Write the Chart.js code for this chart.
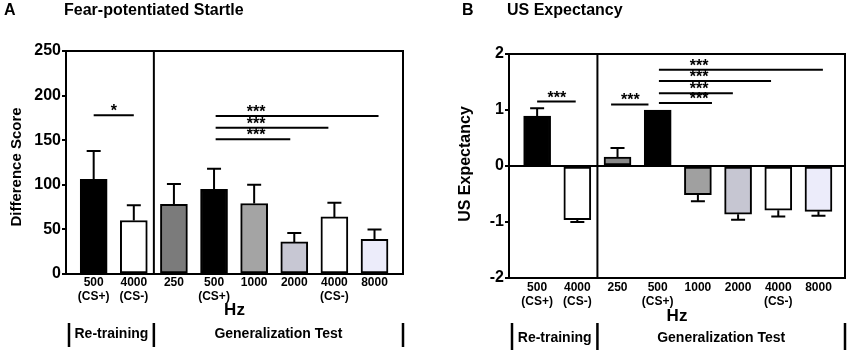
<!DOCTYPE html>
<html><head><meta charset="utf-8">
<script src="https://cdn.jsdelivr.net/npm/chart.js@4.4.0/dist/chart.umd.min.js"></script>
<style>
html,body{margin:0;padding:0;background:#fff;}
#wrap{position:relative;width:850px;height:353px;overflow:hidden;background:#fff;}
canvas{position:absolute;top:0;}
#cA{left:0px;} #cB{left:430px;}
</style></head><body>
<div id="wrap"><canvas id="cA" width="430" height="353"></canvas><canvas id="cB" width="420" height="353"></canvas></div>
<script>
// ---------- data ----------
const hzLabels = [["500","(CS+)"],["4000","(CS-)"],["250"],["500","(CS+)"],["1000"],["2000"],["4000","(CS-)"],["8000"]];
const groupNames = ["Re-training", "Generalization Test"];

const startleMeans   = [106, 60, 78, 95, 79, 36, 64, 39];
const startleErrEnds = [138, 77, 101, 118, 100, 46, 80, 50];
const startleTicks   = [0, 50, 100, 150, 200, 250];
const startleSig = [
  {from: 0,    to: 1,    y: 178, label: "*",   at: 0.5},
  {from: 3.04, to: 4.9,  y: 151, label: "***", at: 4.05},
  {from: 3.04, to: 5.85, y: 164, label: "***", at: 4.05},
  {from: 3.04, to: 7.1,  y: 177, label: "***", at: 4.05}
];

const usMeans   = [0.89, -0.96, 0.16, 1.0, -0.51, -0.86, -0.79, -0.81];
const usErrEnds = [1.03, -1.0, 0.32, 1.0, -0.63, -0.96, -0.90, -0.89];
const usTicks   = [-2, -1, 0, 1, 2];
const usSig = [
  {from: 0,    to: 0.96, y: 1.15,  label: "***", at: 0.49},
  {from: 1.84, to: 2.77, y: 1.10,  label: "***", at: 2.32},
  {from: 3.03, to: 4.35, y: 1.125, label: "***", at: 4.03},
  {from: 3.03, to: 4.87, y: 1.30,  label: "***", at: 4.03},
  {from: 3.03, to: 5.82, y: 1.52,  label: "***", at: 4.03},
  {from: 3.03, to: 7.11, y: 1.72,  label: "***", at: 4.03}
];

const fillsA = ["#000000", "#ffffff", "#7b7b7b", "#000000", "#a4a4a4", "#c7c7d3", "#ffffff", "#ececfa"];
const fillsB = ["#000000", "#ffffff", "#8a8a8a", "#000000", "#a0a0a0", "#c6c6d2", "#ffffff", "#ececfa"];

// ---------- drawing ----------
const FONT = "'Liberation Sans', Arial, Helvetica, sans-serif";

function overlay(cfg) {
  return {
    id: 'overlay',
    afterDraw(chart) {
      const ctx = chart.ctx, a = chart.chartArea, xs = chart.scales.x, ys = chart.scales.y;
      ctx.save();
      ctx.strokeStyle = '#000'; ctx.fillStyle = '#000'; ctx.lineCap = 'butt';
      ctx.lineWidth = 2;
      ctx.beginPath();
      ctx.moveTo(a.left, a.top); ctx.lineTo(a.right, a.top); ctx.lineTo(a.right, a.bottom);
      ctx.stroke();
      const xd = xs.getPixelForValue(1.5);
      ctx.beginPath(); ctx.moveTo(xd, a.top); ctx.lineTo(xd, a.bottom); ctx.stroke();
      if (cfg.zeroLine) {
        const y0 = ys.getPixelForValue(0);
        ctx.beginPath(); ctx.moveTo(a.left, y0); ctx.lineTo(a.right, y0); ctx.stroke();
      }
      cfg.means.forEach((m, i) => {
        const e = cfg.errs[i];
        if (e === m) return;
        const x = xs.getPixelForValue(i), ym = ys.getPixelForValue(m), ye = ys.getPixelForValue(e);
        ctx.beginPath(); ctx.moveTo(x, ym); ctx.lineTo(x, ye);
        ctx.moveTo(x - 7, ye); ctx.lineTo(x + 7, ye); ctx.stroke();
      });
      ctx.font = "bold 16px " + FONT; ctx.textAlign = 'center'; ctx.textBaseline = 'alphabetic';
      cfg.sig.forEach(s => {
        const y = ys.getPixelForValue(s.y);
        ctx.beginPath(); ctx.moveTo(xs.getPixelForValue(s.from), y); ctx.lineTo(xs.getPixelForValue(s.to), y); ctx.stroke();
        ctx.fillText(s.label, xs.getPixelForValue(s.at), y + 1);
      });
      ctx.textAlign = 'left'; ctx.textBaseline = 'middle';
      ctx.font = "bold 16px " + FONT;
      ctx.fillText(cfg.letter, cfg.letterX, 11);
      ctx.fillText(cfg.title, cfg.titleX, 11);
      ctx.save();
      ctx.translate(cfg.yTitleX, cfg.yTitleY); ctx.rotate(-Math.PI / 2);
      ctx.textAlign = 'center'; ctx.textBaseline = 'middle';
      ctx.font = "bold " + cfg.yTitleSize + "px " + FONT;
      ctx.fillText(cfg.yTitle, 0, 0);
      ctx.restore();
      ctx.textAlign = 'center'; ctx.textBaseline = 'middle';
      ctx.font = "bold 17px " + FONT;
      ctx.fillText("Hz", (a.left + a.right) / 2, cfg.hzY);
      const gx = [a.left + 3, xd, a.right];
      ctx.lineWidth = 2.5;
      gx.forEach(x => { ctx.beginPath(); ctx.moveTo(x, cfg.grpTop); ctx.lineTo(x, cfg.grpBot); ctx.stroke(); });
      ctx.font = "bold 14px " + FONT;
      ctx.fillText(groupNames[0], (gx[0] + gx[1]) / 2, cfg.grpY);
      ctx.fillText(groupNames[1], (gx[1] + gx[2]) / 2, cfg.grpY);
      ctx.restore();
    }
  };
}

function build(id, cfg) {
  const data = cfg.means.map((v, i) => ({x: i, y: v}));
  new Chart(document.getElementById(id), {
    type: 'bar',
    data: { datasets: [{
      data: data,
      backgroundColor: cfg.fills,
      borderColor: '#000',
      borderWidth: 2,
      borderSkipped: false,
      barThickness: 27
    }]},
    options: {
      responsive: false, animation: false, devicePixelRatio: 1,
      layout: { padding: { left: 0, top: cfg.top, right: cfg.right, bottom: cfg.bottom - 36 } },
      plugins: { legend: {display: false}, tooltip: {enabled: false} },
      scales: {
        x: {
          type: 'linear', min: cfg.xmin, max: cfg.xmax, offset: false, bounds: 'data',
          afterFit: s => { s.height = 36; },
          afterBuildTicks: s => { s.ticks = hzLabels.map((_, i) => ({value: i})); },
          grid: { display: false, drawTicks: false, offset: false },
          border: { display: true, color: '#000', width: 2 },
          ticks: {
            autoSkip: false, maxRotation: 0, minRotation: 0, padding: cfg.xPad, color: '#000',
            font: { family: FONT, size: 12, weight: 'bold', lineHeight: 1.2 },
            callback: v => hzLabels[v]
          }
        },
        y: {
          min: cfg.ymin, max: cfg.ymax,
          afterFit: s => { s.width = cfg.left; },
          afterBuildTicks: s => { s.ticks = cfg.ticks.map(v => ({value: v})); },
          grid: { display: true, drawOnChartArea: false, drawTicks: true, tickLength: 4, color: '#000', lineWidth: 2 },
          border: { display: true, color: '#000', width: 2 },
          ticks: { padding: 1, color: '#000', font: { family: FONT, size: 16, weight: 'bold' } }
        }
      }
    },
    plugins: [overlay(cfg)]
  });
}

build('cA', {
  means: startleMeans, errs: startleErrEnds, ticks: startleTicks, sig: startleSig, fills: fillsA,
  ymin: 0, ymax: 250, xmin: -0.69, xmax: 7.71,
  left: 66, top: 51, right: 27, bottom: 79, xPad: 1,
  letter: "A", letterX: 4, title: "Fear-potentiated Startle", titleX: 64,
  yTitle: "Difference Score", yTitleX: 17, yTitleY: 167, yTitleSize: 15,
  hzY: 310, grpTop: 323, grpBot: 347, grpY: 334, zeroLine: false
});
build('cB', {
  means: usMeans, errs: usErrEnds, ticks: usTicks, sig: usSig, fills: fillsB,
  ymin: -2, ymax: 2, xmin: -0.7, xmax: 7.66,
  left: 79, top: 54, right: 5, bottom: 75, xPad: 2,
  letter: "B", letterX: 32, title: "US Expectancy", titleX: 77,
  yTitle: "US Expectancy", yTitleX: 36, yTitleY: 164, yTitleSize: 16,
  hzY: 316, grpTop: 323, grpBot: 350, grpY: 338, zeroLine: true
});
</script>
</body></html>
